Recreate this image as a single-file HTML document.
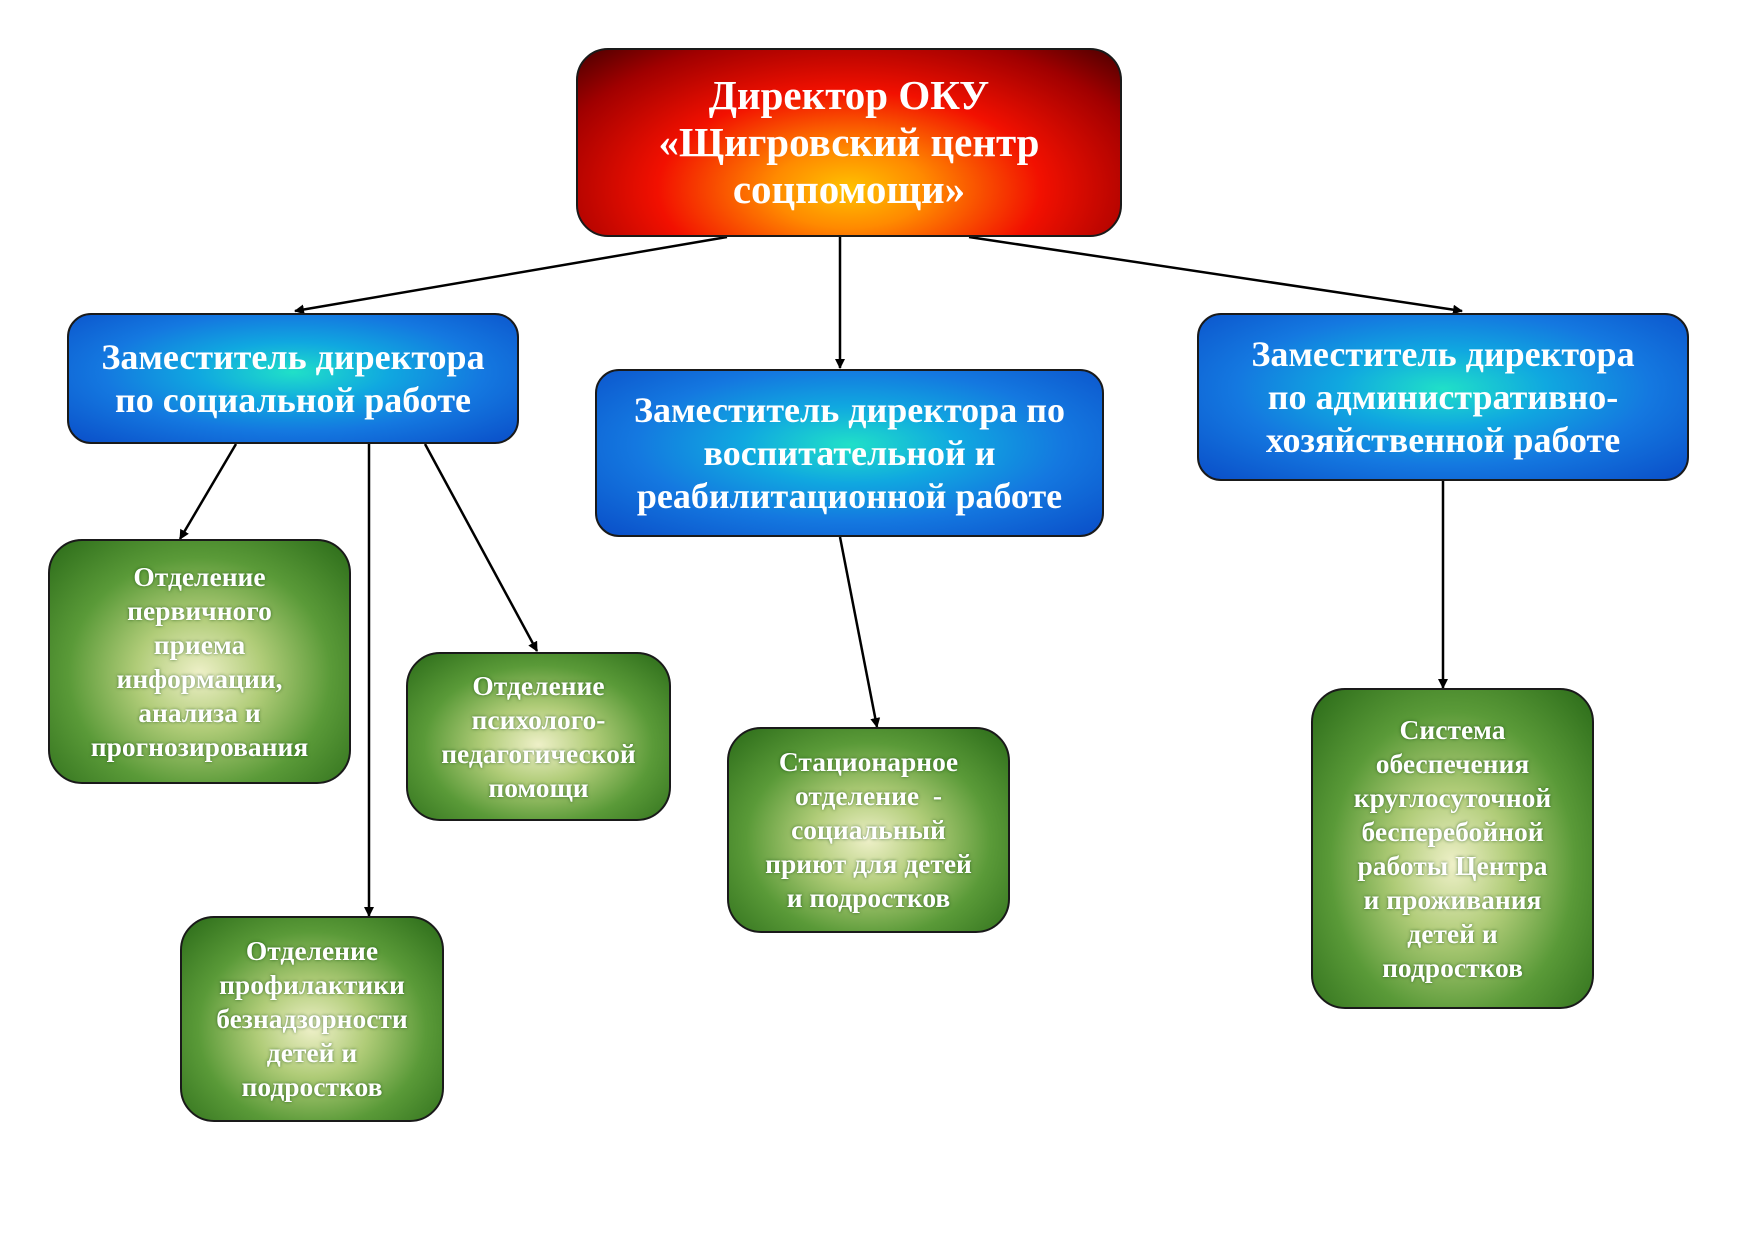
<!DOCTYPE html>
<html><head><meta charset="utf-8"><style>
body{margin:0;width:1754px;height:1240px;background:#fff;position:relative;overflow:hidden;font-family:"Liberation Serif",serif;font-weight:bold;color:#fff}
.b{position:absolute;box-sizing:border-box;display:flex;align-items:center;justify-content:center;text-align:center;border:2px solid #1a1a1a;white-space:nowrap}
.r{border-radius:32px;background:radial-gradient(ellipse at 50% 75%,#ffc200 0%,#ff8a00 20%,#f21000 50%,#a00000 80%,#4a0000 100%);font-size:41px;line-height:47px}
.bl{border-radius:24px;background:radial-gradient(ellipse at 50% 45%,#20e0c8 0%,#10a8e0 30%,#1478e0 60%,#0a4ec8 100%);font-size:36px;line-height:43px}
.g{border-radius:34px;background:radial-gradient(ellipse at 50% 55%,#eef0c8 0%,#b0cc78 30%,#5a9a38 62%,#2a6a18 100%);font-size:27.5px;line-height:34px;text-shadow:0 0 3px rgba(0,60,0,.6)}
svg{position:absolute;left:0;top:0}
</style></head><body>
<svg width="1754" height="1240"><defs><marker id="a" markerWidth="10" markerHeight="10" refX="9" refY="5" orient="auto" markerUnits="userSpaceOnUse"><path d="M0,0 L10,5 L0,10 Z" fill="#000"/></marker></defs>
<g stroke="#000" stroke-width="2.5" marker-end="url(#a)">
<line x1="727" y1="237" x2="295" y2="311"/>
<line x1="840" y1="237" x2="840" y2="368"/>
<line x1="969" y1="237" x2="1462" y2="311"/>
<line x1="236" y1="444" x2="180" y2="539"/>
<line x1="369" y1="444" x2="369" y2="916"/>
<line x1="425" y1="444" x2="537" y2="651"/>
<line x1="840" y1="537" x2="877" y2="727"/>
<line x1="1443" y1="481" x2="1443" y2="688"/>
</g></svg>
<div class="b r" style="left:576px;top:48px;width:546px;height:189px">Директор ОКУ<br>«Щигровский центр<br>соцпомощи»</div>
<div class="b bl" style="left:67px;top:313px;width:452px;height:131px">Заместитель директора<br>по социальной работе</div>
<div class="b bl" style="left:595px;top:369px;width:509px;height:168px">Заместитель директора по<br>воспитательной и<br>реабилитационной работе</div>
<div class="b bl" style="left:1197px;top:313px;width:492px;height:168px">Заместитель директора<br>по административно-<br>хозяйственной работе</div>
<div class="b g" style="left:48px;top:539px;width:303px;height:245px">Отделение<br>первичного<br>приема<br>информации,<br>анализа и<br>прогнозирования</div>
<div class="b g" style="left:406px;top:652px;width:265px;height:169px">Отделение<br>психолого-<br>педагогической<br>помощи</div>
<div class="b g" style="left:180px;top:916px;width:264px;height:206px">Отделение<br>профилактики<br>безнадзорности<br>детей и<br>подростков</div>
<div class="b g" style="left:727px;top:727px;width:283px;height:206px">Стационарное<br>отделение&nbsp; -<br>социальный<br>приют для детей<br>и подростков</div>
<div class="b g" style="left:1311px;top:688px;width:283px;height:321px">Система<br>обеспечения<br>круглосуточной<br>бесперебойной<br>работы Центра<br>и проживания<br>детей и<br>подростков</div>
</body></html>
